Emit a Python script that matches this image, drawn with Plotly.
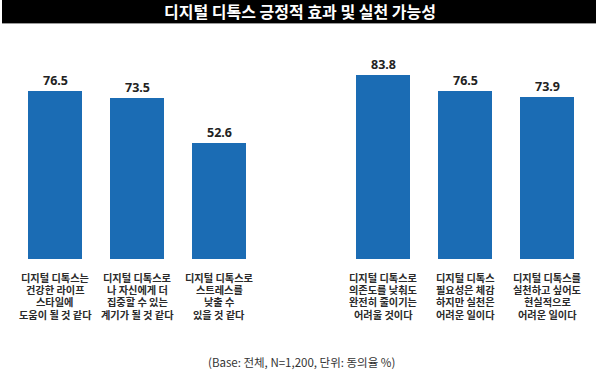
import plotly.graph_objects as go

title = "디지털 디톡스 긍정적 효과 및 실천 가능성"
categories = [
    ["디지털 디톡스는", "건강한 라이프", "스타일에", "도움이 될 것 같다"],
    ["디지털 디톡스로", "나 자신에게 더", "집중할 수 있는", "계기가 될 것 같다"],
    ["디지털 디톡스로", "스트레스를", "낮출 수", "있을 것 같다"],
    ["디지털 디톡스로", "의존도를 낮춰도", "완전히 줄이기는", "어려울 것이다"],
    ["디지털 디톡스", "필요성은 체감", "하지만 실천은", "어려운 일이다"],
    ["디지털 디톡스를", "실천하고 싶어도", "현실적으로", "어려운 일이다"],
]
values = [76.5, 73.5, 52.6, 83.8, 76.5, 73.9]
positions = [0, 1, 2, 4, 5, 6]
footnote = "(Base: 전체, N=1,200, 단위: 동의율 %)"

FONT = "Noto Sans CJK KR"
BAR = "#1b6cb4"

fig = go.Figure()
fig.add_trace(go.Bar(
    x=positions, y=values, width=0.66,
    marker=dict(color=BAR, line=dict(width=0)),
    hoverinfo="skip",
))

for p, v in zip(positions, values):
    fig.add_annotation(
        x=p, y=v, xref="x", yref="y", text=f"{v:.1f}", showarrow=False,
        yanchor="bottom", yshift=1, borderpad=0,
        font=dict(family="Noto Sans", size=12.5, color="#222222", weight="bold"),
    )

LINE = 12.4
for p, lines in zip(positions, categories):
    for i, ln in enumerate(lines):
        fig.add_annotation(
            x=p, y=0, xref="x", yref="y", text=ln, showarrow=False,
            yanchor="middle", yshift=-(18 + i * LINE), borderpad=0,
            font=dict(family=FONT, size=10.2, color="#2a2a2a", weight="bold"),
        )

# title bar
H = 219.0
fig.add_shape(type="rect", xref="paper", yref="paper",
              x0=2/600, x1=596/600, y0=1 + (40-23)/H, y1=1 + 40/H,
              fillcolor="#000000", line=dict(width=0), layer="above")
fig.add_shape(type="line", xref="paper", yref="paper",
              x0=2/600, x1=596/600, y0=1 + (40-23.5)/H, y1=1 + (40-23.5)/H,
              line=dict(color="#9a9a9a", width=1), layer="above")
fig.add_annotation(xref="paper", yref="paper", x=0.5, y=1 + (40-11.5)/H,
                   text=title, showarrow=False, xanchor="center", yanchor="middle",
                   font=dict(family=FONT, size=16, color="#ffffff", weight="bold"))

fig.add_annotation(xref="paper", yref="paper", x=301/600, y=-(362-259)/H,
                   text=footnote, showarrow=False, xanchor="center", yanchor="middle",
                   font=dict(family=FONT, size=11.5, color="#333333"))

fig.update_layout(
    width=600, height=372,
    margin=dict(l=0, r=0, t=40, b=113),
    paper_bgcolor="white", plot_bgcolor="white",
    showlegend=False,
    bargap=0,
    xaxis=dict(range=[-55/82, 545/82], visible=False, fixedrange=True),
    yaxis=dict(range=[0, 219/2.196], visible=False, fixedrange=True),
)

fig.write_html(
    "out.html",
    config={"displayModeBar": False},
    post_script="document.body.style.margin='0';document.body.style.padding='0';document.body.style.overflow='hidden';",
)
